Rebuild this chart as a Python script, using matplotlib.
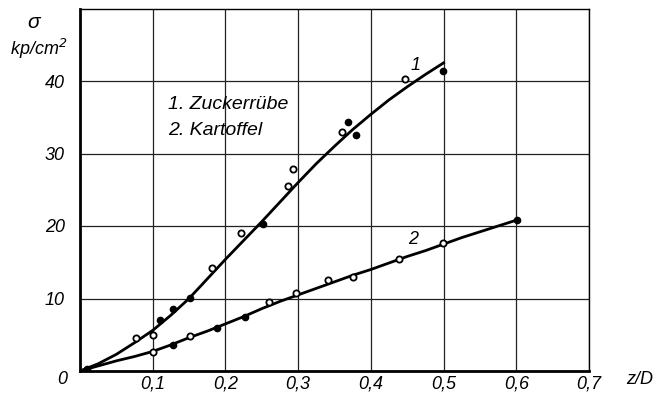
import numpy as np
import matplotlib
matplotlib.use("Agg")
import matplotlib.pyplot as plt

plt.rcParams['font.family'] = ['Liberation Sans', 'DejaVu Sans']
plt.rcParams['font.style'] = 'italic'

# measured points, curve 1 (Zuckerrübe)
x1_open = [0.077, 0.10, 0.182, 0.221, 0.286, 0.293, 0.36, 0.447]
y1_open = [4.5, 4.9, 14.2, 19.0, 25.5, 27.9, 32.9, 40.3]
x1_full = [0.11, 0.128, 0.151, 0.252, 0.369, 0.379, 0.499]
y1_full = [7.0, 8.6, 10.1, 20.3, 34.4, 32.5, 41.4]

# measured points, curve 2 (Kartoffel)
x2_open = [0.10, 0.151, 0.26, 0.297, 0.341, 0.375, 0.439, 0.499]
y2_open = [2.6, 4.8, 9.5, 10.7, 12.5, 13.0, 15.5, 17.6]
x2_full = [0.01, 0.128, 0.188, 0.227, 0.601]
y2_full = [0.3, 3.6, 5.9, 7.5, 20.8]

# drawn curves
xc1 = [0.0, 0.025, 0.05, 0.075, 0.1, 0.125, 0.15, 0.175, 0.2, 0.225, 0.25, 0.275,
       0.3, 0.325, 0.35, 0.375, 0.4, 0.425, 0.45, 0.475, 0.5]
yc1 = [0.0, 1.0, 2.3, 3.9, 5.6, 7.7, 10.0, 12.7, 15.4, 18.0, 20.6, 23.3,
       26.0, 28.6, 31.0, 33.3, 35.4, 37.4, 39.2, 40.9, 42.5]
xc2 = [0.0, 0.025, 0.05, 0.075, 0.1, 0.125, 0.15, 0.175, 0.2, 0.225, 0.25, 0.275,
       0.3, 0.325, 0.35, 0.375, 0.4, 0.425, 0.45, 0.475, 0.5, 0.525, 0.55, 0.575, 0.6]
yc2 = [0.0, 0.7, 1.4, 2.0, 2.7, 3.6, 4.6, 5.5, 6.5, 7.5, 8.6, 9.6,
       10.5, 11.4, 12.3, 13.2, 14.0, 14.9, 15.8, 16.6, 17.5, 18.4, 19.2, 20.0, 20.8]

xticks = [0.1, 0.2, 0.3, 0.4, 0.5, 0.6, 0.7]
xticklabels = ['0,1', '0,2', '0,3', '0,4', '0,5', '0,6', '0,7']
yticks = [10, 20, 30, 40]

fig = plt.figure(figsize=(6.57, 4.09), dpi=100)
ax = fig.add_axes([80/657, 1-371/409, 509/657, 362.5/409])
ax.set_xlim(0, 0.7)
ax.set_ylim(0, 50)

ax.set_xticks(xticks)
ax.set_xticklabels(xticklabels)
ax.set_yticks(yticks)
ax.tick_params(axis='x', length=0, labelsize=13, pad=3)
ax.tick_params(axis='y', length=0, labelsize=13, pad=11)
ax.grid(True, color='#222222', lw=0.9)
ax.set_axisbelow(True)
for s in ['left', 'bottom']:
    ax.spines[s].set_linewidth(2.0)
for s in ['top', 'right']:
    ax.spines[s].set_linewidth(1.0)

ax.plot(xc1, yc1, color='black', lw=2.0)
ax.plot(xc2, yc2, color='black', lw=2.0)
ax.plot(x1_open, y1_open, 'o', ms=4.5, mfc='white', mec='black', mew=1.3)
ax.plot(x2_open, y2_open, 'o', ms=4.5, mfc='white', mec='black', mew=1.3)
ax.plot(x1_full, y1_full, 'o', ms=4.5, mfc='black', mec='black')
ax.plot(x2_full, y2_full, 'o', ms=4.5, mfc='black', mec='black')

ax.text(0.462, 42.2, '1', fontsize=13, ha='center', va='center')
ax.text(0.458, 18.1, '2', fontsize=13, ha='center', va='center')
ax.text(0.121, 36.7, '1. Zuckerrübe', fontsize=14, va='center')
ax.text(0.121, 33.2, '2. Kartoffel', fontsize=14, va='center')

fig.text(62/657, 1-380/409, '0', fontsize=13, ha='center', va='center')
fig.text(640/657, 1-380/409, 'z/D', fontsize=13, ha='center', va='center')
fig.text(34/657, 1-22/409, 'σ', fontsize=15, ha='center', va='center')
fig.text(39/657, 1-49/409, 'kp/cm$^2$', fontsize=13, ha='center', va='center')

fig.savefig('out.png', dpi=100)
